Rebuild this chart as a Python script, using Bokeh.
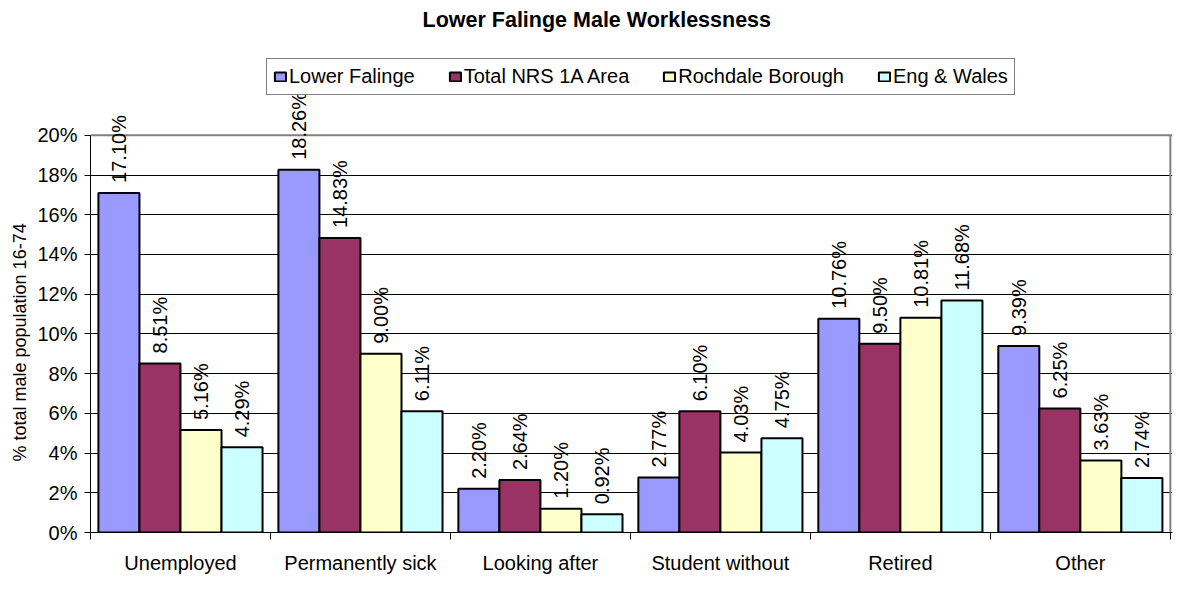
from math import pi
from bokeh.plotting import figure
from bokeh.core.properties import value
from bokeh.models import (ColumnDataSource, Range1d, FixedTicker, PrintfTickFormatter,
                          LabelSet, Legend, LegendItem, Title, Span)
from bokeh.embed import file_html
from bokeh.resources import INLINE

title = "Lower Falinge Male Worklessness"
categories = ["Unemployed", "Permanently sick", "Looking after", "Student without", "Retired", "Other"]
series_names = ["Lower Falinge", "Total NRS 1A Area", "Rochdale Borough", "Eng & Wales"]
lower_falinge = [17.10, 18.26, 2.20, 2.77, 10.76, 9.39]
total_nrs_1a = [8.51, 14.83, 2.64, 6.10, 9.50, 6.25]
rochdale = [5.16, 9.00, 1.20, 4.03, 10.81, 3.63]
eng_wales = [4.29, 6.11, 0.92, 4.75, 11.68, 2.74]
y_ticks = [0, 2, 4, 6, 8, 10, 12, 14, 16, 18, 20]
y_label = "% total male population 16-74"

series = [lower_falinge, total_nrs_1a, rochdale, eng_wales]
colors = ["#9999FF", "#993366", "#FFFFCC", "#CCFFFF"]

FONT = "Liberation Sans"
n = len(categories)
y_max = y_ticks[-1]
bar_w = 0.228
offsets = [(k - 1.5) * bar_w for k in range(len(series))]

# layout (pixels)
W, H = 1174, 576
top_border, bottom_border, left_border, right_border = 34, 30, 90, 2
frame_h = H - top_border - bottom_border
axis_px = 410                      # pixel height of the 0..y_max span
y_end = y_max * frame_h / axis_px  # room above the axis for legend and labels

p = figure(width=W, height=H, output_backend="svg", toolbar_location=None,
           x_range=Range1d(0, n * 1.002), y_range=Range1d(0, y_end), title=title,
           min_border_left=left_border, min_border_right=right_border,
           min_border_top=top_border, min_border_bottom=bottom_border)

p.title.align = "left"
p.title.offset = 332
p.title.text_font = FONT
p.title.text_font_size = "21.5px"
p.title.text_font_style = "bold"
p.title.text_color = "black"

# plot-area border (top and right) in grey, beneath the value labels
p.add_layout(Span(location=y_max, dimension="width", line_color="#808080",
                  line_width=2, level="underlay"))
p.segment(x0=[n], y0=[0], x1=[n], y1=[y_max], line_color="#808080", line_width=2)

items = []
for k, (vals, name, col) in enumerate(zip(series, series_names, colors)):
    src = ColumnDataSource(dict(
        x=[i + 0.5 + offsets[k] for i in range(n)],
        top=vals,
        lab=[f"{v:.2f}%" for v in vals],
    ))
    r = p.vbar(x="x", top="top", bottom=0, width=bar_w, source=src,
               fill_color=col, line_color="black", line_width=2)
    items.append(LegendItem(label=name, renderers=[r]))
    labels = LabelSet(x="x", y="top", text="lab", source=src, angle=pi / 2,
                      text_align="left", text_baseline="middle", y_offset=10,
                      text_font=value(FONT), text_font_size=value("20px"),
                      text_color="black")
    p.add_layout(labels)

legend = Legend(items=items, orientation="horizontal", location=(176, frame_h - 75))
legend.label_text_font = FONT
legend.label_text_font_size = "20px"
legend.label_text_color = "black"
legend.glyph_width = 14
legend.glyph_height = 11
legend.label_standoff = 2
legend.spacing = 33
legend.padding = 6
legend.margin = 0
legend.border_line_color = "black"
legend.border_line_width = 1
legend.background_fill_color = "white"
legend.background_fill_alpha = 1
p.add_layout(legend, "center")

# y axis
p.yaxis.ticker = FixedTicker(ticks=y_ticks)
p.yaxis.bounds = (0, y_max)
p.yaxis.formatter = PrintfTickFormatter(format="%d%%")
p.yaxis.major_label_text_font = FONT
p.yaxis.major_label_text_font_size = "20px"
p.yaxis.major_label_text_color = "black"
p.yaxis.major_tick_out = 6
p.yaxis.major_tick_in = 0
p.yaxis.minor_tick_line_color = None
p.yaxis.axis_line_color = "black"
p.yaxis.major_tick_line_color = "black"
p.yaxis.major_label_standoff = 7

ylab = Title(text=y_label, align="left", offset=71, text_font=FONT,
             text_font_size="18px", text_font_style="normal", text_color="black")
p.add_layout(ylab, "left")

# x axis with ticks between categories
p.xaxis.ticker = FixedTicker(ticks=[i + 0.5 for i in range(n)],
                             minor_ticks=[i for i in range(n + 1)])
p.xaxis.major_label_overrides = {i + 0.5: c for i, c in enumerate(categories)}
p.xaxis.major_tick_line_color = None
p.xaxis.major_tick_out = 0
p.xaxis.major_tick_in = 0
p.xaxis.minor_tick_out = 7
p.xaxis.minor_tick_in = 0
p.xaxis.minor_tick_line_color = "black"
p.xaxis.axis_line_color = "black"
p.xaxis.major_label_text_font = FONT
p.xaxis.major_label_text_font_size = "20px"
p.xaxis.major_label_text_line_height = 1.0
p.xaxis.major_label_text_color = "black"
p.xaxis.major_label_standoff = 12

p.xgrid.grid_line_color = None
p.ygrid.ticker = FixedTicker(ticks=y_ticks[:-1])
p.ygrid.grid_line_color = "black"
p.ygrid.grid_line_width = 1

p.outline_line_color = None
p.background_fill_color = "white"
p.border_fill_color = "white"

open("out.html", "w").write(file_html(p, INLINE))
